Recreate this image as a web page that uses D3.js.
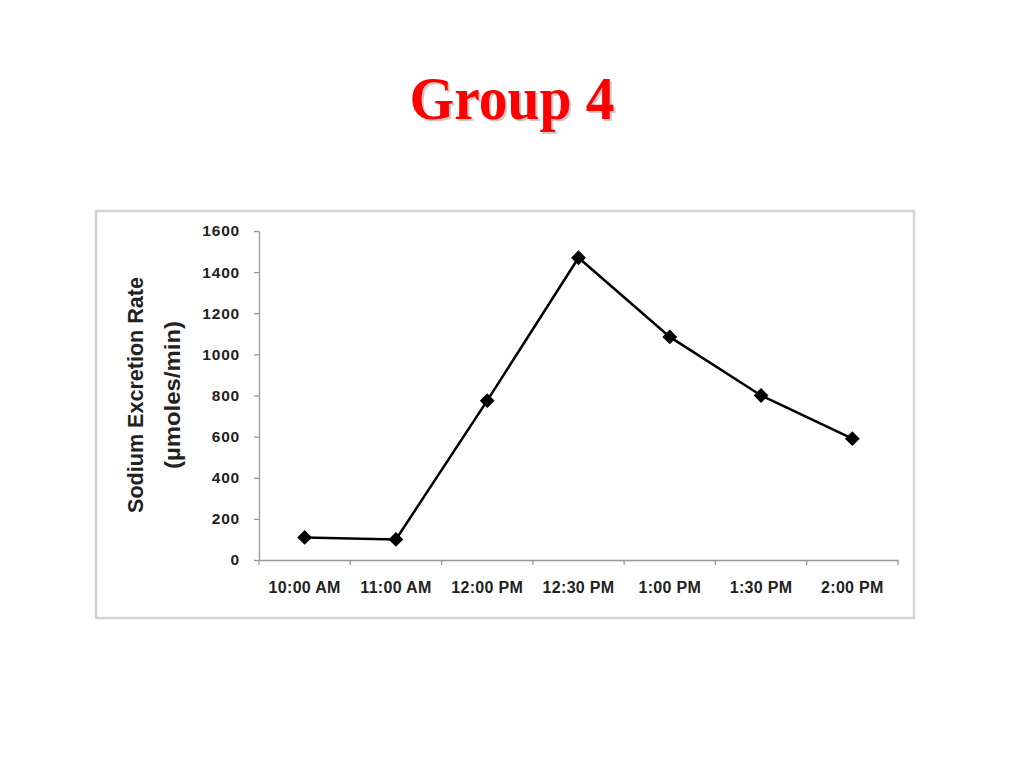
<!DOCTYPE html>
<html><head><meta charset="utf-8">
<script src="https://cdn.jsdelivr.net/npm/d3@7"></script>
<style>body{margin:0;background:#fff;}svg{display:block;}</style>
</head><body>
<svg id="c" width="1024" height="768"></svg>
<script>
const categories = ["10:00 AM","11:00 AM","12:00 PM","12:30 PM","1:00 PM","1:30 PM","2:00 PM"];
const values = [110, 100, 775, 1470, 1085, 800, 590];
const yTicks = [0,200,400,600,800,1000,1200,1400,1600];

const svg = d3.select("#c");
// title
svg.append("text").attr("x",514).attr("y",121).attr("text-anchor","middle")
  .attr("font-family","Liberation Serif").attr("font-weight","bold").attr("font-size",62)
  .attr("fill","#999").attr("opacity",0.5).attr("textLength",205).attr("lengthAdjust","spacingAndGlyphs")
  .text("Group 4");
svg.append("text").attr("x",512).attr("y",119).attr("text-anchor","middle")
  .attr("font-family","Liberation Serif").attr("font-weight","bold").attr("font-size",62)
  .attr("fill","#ff0000").attr("textLength",205).attr("lengthAdjust","spacingAndGlyphs")
  .text("Group 4");

// frame
svg.append("rect").attr("x",96).attr("y",211).attr("width",818).attr("height",407)
  .attr("fill","#fff").attr("stroke","#d4d4d4").attr("stroke-width",2.5);

const x0 = 259, x1 = 898, yTop = 231, yBot = 560;
const x = d3.scaleBand().domain(categories).range([x0,x1]);
const y = d3.scaleLinear().domain([0,1600]).range([yBot,yTop]);

const font = "Liberation Sans";
const yAxis = svg.append("g").attr("transform",`translate(${x0},0)`)
  .call(d3.axisLeft(y).tickValues(yTicks).tickFormat(d3.format("d")).tickSize(5).tickPadding(14).tickSizeOuter(0));
yAxis.selectAll("text").attr("font-family",font).attr("font-weight","bold").attr("font-size",15.5)
  .attr("letter-spacing",0.8).attr("fill","#222");
yAxis.selectAll("line,path").attr("stroke","#999").attr("stroke-width",1.3);

const xAxis = svg.append("g").attr("transform",`translate(0,${yBot})`)
  .call(d3.axisBottom(x).tickSize(0).tickPadding(22));
xAxis.selectAll("text").attr("font-family",font).attr("font-weight","bold").attr("font-size",16)
  .attr("letter-spacing",0.3).attr("fill","#222");
xAxis.select("path").attr("stroke","#999").attr("stroke-width",1.3);
// boundary ticks
const bounds = categories.map(c=>x(c)).concat([x1]);
xAxis.selectAll("line.b").data(bounds).enter().append("line").attr("class","b")
  .attr("x1",d=>d).attr("x2",d=>d).attr("y1",0).attr("y2",5).attr("stroke","#999").attr("stroke-width",1.3);

// y label
const lab = svg.append("g").attr("transform","translate(0,395) rotate(-90)");
lab.append("text").attr("x",0).attr("y",143).attr("text-anchor","middle")
  .attr("font-family",font).attr("font-weight","bold").attr("font-size",21.5).attr("fill","#222")
  .attr("textLength",236).attr("lengthAdjust","spacingAndGlyphs")
  .text("Sodium Excretion Rate");
lab.append("text").attr("x",0).attr("y",180).attr("text-anchor","middle")
  .attr("font-family",font).attr("font-weight","bold").attr("font-size",21.5).attr("fill","#222")
  .attr("textLength",148).attr("lengthAdjust","spacingAndGlyphs")
  .text("(µmoles/min)");

// line
const cx = d => x(d) + x.bandwidth()/2;
const line = d3.line().x((d,i)=>cx(categories[i])).y(d=>y(d));
svg.append("path").datum(values).attr("d",line).attr("fill","none").attr("stroke","#000").attr("stroke-width",2.5);
svg.selectAll("path.m").data(values).enter().append("path").attr("class","m")
  .attr("d",d3.symbol().type(d3.symbolDiamond2).size(140))
  .attr("transform",(d,i)=>`translate(${cx(categories[i])},${y(d)})`).attr("fill","#000");
</script>
</body></html>
